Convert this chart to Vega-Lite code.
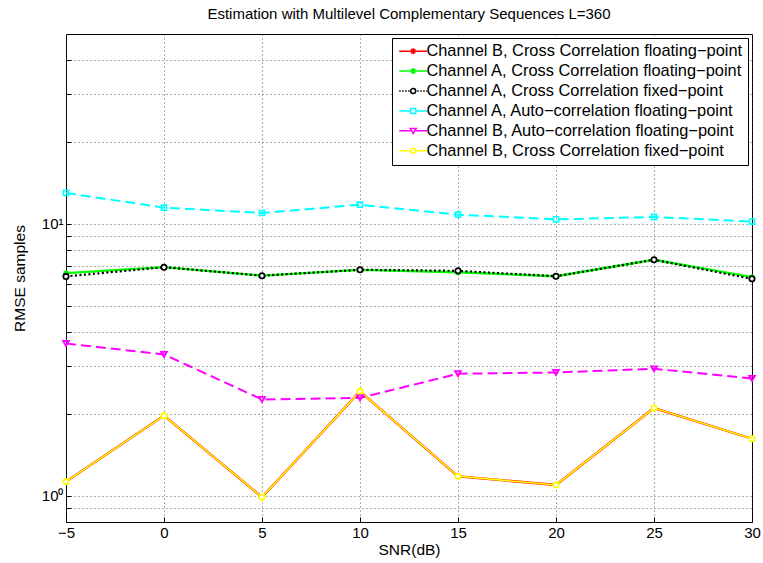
{
  "$schema": "https://vega.github.io/schema/vega-lite/v6.json",
  "autosize": "none",
  "width": 686,
  "height": 488,
  "padding": {"left": 66, "top": 34, "right": 11, "bottom": 41},
  "background": "white",
  "config": {
    "font": "Liberation Sans",
    "view": {"stroke": "#000", "strokeWidth": 1},
    "axis": {
      "domain": false,
      "ticks": true,
      "tickSize": -5,
      "tickColor": "#000",
      "tickWidth": 1,
      "gridDash": [1, 3],
      "gridColor": "#333",
      "gridOpacity": 0.8,
      "labelFont": "Liberation Sans",
      "labelFontSize": 15,
      "labelColor": "#000",
      "titleFont": "Liberation Sans",
      "titleFontSize": 15.5,
      "titleFontWeight": "normal",
      "titleColor": "#000"
    },
    "legend": {
      "orient": "top-right",
      "offset": 4,
      "padding": 5,
      "strokeColor": "#000",
      "fillColor": "#fff",
      "labelFont": "Liberation Sans",
      "labelFontSize": 16.4,
      "labelColor": "#000",
      "labelLimit": 500,
      "labelOffset": 13,
      "rowPadding": 2.9,
      "symbolSize": 144,
      "symbolStrokeWidth": 1.5,
      "symbolOpacity": 1,
      "symbolFillColor": "transparent"
    }
  },
  "title": {
    "text": "Estimation with Multilevel Complementary Sequences L=360",
    "font": "Liberation Sans",
    "fontSize": 15,
    "fontWeight": "normal",
    "color": "#000",
    "anchor": "middle",
    "frame": "group",
    "offset": 12
  },
  "data": {
    "values": [
      {"series": "Channel B, Cross Correlation floating−point", "snr": -5, "rmse": 1.126},
      {"series": "Channel B, Cross Correlation floating−point", "snr": 0, "rmse": 1.97},
      {"series": "Channel B, Cross Correlation floating−point", "snr": 5, "rmse": 0.987},
      {"series": "Channel B, Cross Correlation floating−point", "snr": 10, "rmse": 2.42},
      {"series": "Channel B, Cross Correlation floating−point", "snr": 15, "rmse": 1.178},
      {"series": "Channel B, Cross Correlation floating−point", "snr": 20, "rmse": 1.095},
      {"series": "Channel B, Cross Correlation floating−point", "snr": 25, "rmse": 2.1},
      {"series": "Channel B, Cross Correlation floating−point", "snr": 30, "rmse": 1.62},
      {"series": "Channel A, Cross Correlation floating−point", "snr": -5, "rmse": 6.59},
      {"series": "Channel A, Cross Correlation floating−point", "snr": 0, "rmse": 6.93},
      {"series": "Channel A, Cross Correlation floating−point", "snr": 5, "rmse": 6.45},
      {"series": "Channel A, Cross Correlation floating−point", "snr": 10, "rmse": 6.78},
      {"series": "Channel A, Cross Correlation floating−point", "snr": 15, "rmse": 6.64},
      {"series": "Channel A, Cross Correlation floating−point", "snr": 20, "rmse": 6.42},
      {"series": "Channel A, Cross Correlation floating−point", "snr": 25, "rmse": 7.38},
      {"series": "Channel A, Cross Correlation floating−point", "snr": 30, "rmse": 6.37},
      {"series": "Channel A, Cross Correlation fixed−point", "snr": -5, "rmse": 6.41},
      {"series": "Channel A, Cross Correlation fixed−point", "snr": 0, "rmse": 6.93},
      {"series": "Channel A, Cross Correlation fixed−point", "snr": 5, "rmse": 6.45},
      {"series": "Channel A, Cross Correlation fixed−point", "snr": 10, "rmse": 6.78},
      {"series": "Channel A, Cross Correlation fixed−point", "snr": 15, "rmse": 6.72},
      {"series": "Channel A, Cross Correlation fixed−point", "snr": 20, "rmse": 6.42},
      {"series": "Channel A, Cross Correlation fixed−point", "snr": 25, "rmse": 7.38},
      {"series": "Channel A, Cross Correlation fixed−point", "snr": 30, "rmse": 6.28},
      {"series": "Channel A, Auto−correlation floating−point", "snr": -5, "rmse": 13.0},
      {"series": "Channel A, Auto−correlation floating−point", "snr": 0, "rmse": 11.48},
      {"series": "Channel A, Auto−correlation floating−point", "snr": 5, "rmse": 10.97},
      {"series": "Channel A, Auto−correlation floating−point", "snr": 10, "rmse": 11.77},
      {"series": "Channel A, Auto−correlation floating−point", "snr": 15, "rmse": 10.82},
      {"series": "Channel A, Auto−correlation floating−point", "snr": 20, "rmse": 10.4},
      {"series": "Channel A, Auto−correlation floating−point", "snr": 25, "rmse": 10.61},
      {"series": "Channel A, Auto−correlation floating−point", "snr": 30, "rmse": 10.2},
      {"series": "Channel B, Auto−correlation floating−point", "snr": -5, "rmse": 3.63},
      {"series": "Channel B, Auto−correlation floating−point", "snr": 0, "rmse": 3.31},
      {"series": "Channel B, Auto−correlation floating−point", "snr": 5, "rmse": 2.26},
      {"series": "Channel B, Auto−correlation floating−point", "snr": 10, "rmse": 2.29},
      {"series": "Channel B, Auto−correlation floating−point", "snr": 15, "rmse": 2.81},
      {"series": "Channel B, Auto−correlation floating−point", "snr": 20, "rmse": 2.84},
      {"series": "Channel B, Auto−correlation floating−point", "snr": 25, "rmse": 2.93},
      {"series": "Channel B, Auto−correlation floating−point", "snr": 30, "rmse": 2.7},
      {"series": "Channel B, Cross Correlation fixed−point", "snr": -5, "rmse": 1.126},
      {"series": "Channel B, Cross Correlation fixed−point", "snr": 0, "rmse": 1.97},
      {"series": "Channel B, Cross Correlation fixed−point", "snr": 5, "rmse": 0.987},
      {"series": "Channel B, Cross Correlation fixed−point", "snr": 10, "rmse": 2.42},
      {"series": "Channel B, Cross Correlation fixed−point", "snr": 15, "rmse": 1.178},
      {"series": "Channel B, Cross Correlation fixed−point", "snr": 20, "rmse": 1.095},
      {"series": "Channel B, Cross Correlation fixed−point", "snr": 25, "rmse": 2.1},
      {"series": "Channel B, Cross Correlation fixed−point", "snr": 30, "rmse": 1.62}
    ]
  },
  "encoding": {
    "x": {
      "field": "snr",
      "type": "quantitative",
      "title": "SNR(dB)",
      "scale": {"domain": [-5, 30], "nice": false, "zero": false},
      "axis": {"values": [-5, 0, 5, 10, 15, 20, 25, 30], "labelPadding": 8, "titlePadding": 2, "labelFlush": false}
    },
    "y": {
      "field": "rmse",
      "type": "quantitative",
      "title": "RMSE samples",
      "scale": {"type": "log", "domain": [0.8, 50], "nice": false},
      "axis": {
        "values": [0.9, 1, 2, 3, 4, 5, 6, 7, 8, 9, 10, 20, 30, 40],
        "labelExpr": "datum.value == 1 ? '10⁰' : (datum.value == 10 ? '10¹' : '')",
        "labelPadding": 8,
        "titlePadding": 14
      }
    },
    "color": {
      "field": "series",
      "type": "nominal",
      "title": null,
      "scale": {
        "domain": [
          "Channel B, Cross Correlation floating−point",
          "Channel A, Cross Correlation floating−point",
          "Channel A, Cross Correlation fixed−point",
          "Channel A, Auto−correlation floating−point",
          "Channel B, Auto−correlation floating−point",
          "Channel B, Cross Correlation fixed−point"
        ],
        "range": ["#ff0000", "#00ff00", "#000000", "#00ffff", "#ff00ff", "#ffff00"]
      }
    }
  },
  "layer": [
    {
      "transform": [{"filter": {"field": "series", "oneOf": ["Channel B, Cross Correlation floating−point", "Channel A, Cross Correlation floating−point"]}}],
      "mark": {"type": "line", "strokeWidth": 2.3}
    },
    {
      "transform": [{"filter": {"field": "series", "equal": "Channel B, Cross Correlation fixed−point"}}],
      "mark": {"type": "line", "strokeWidth": 1.6}
    },
    {
      "transform": [{"filter": {"field": "series", "equal": "Channel A, Cross Correlation fixed−point"}}],
      "mark": {"type": "line", "strokeWidth": 2.2, "strokeDash": [2, 2.5]}
    },
    {
      "transform": [{"filter": {"field": "series", "oneOf": ["Channel A, Auto−correlation floating−point", "Channel B, Auto−correlation floating−point"]}}],
      "mark": {"type": "line", "strokeWidth": 2, "strokeDash": [10, 5]}
    },
    {
      "transform": [{"filter": {"field": "series", "oneOf": ["Channel B, Cross Correlation floating−point", "Channel A, Cross Correlation floating−point"]}}],
      "mark": {"type": "point", "filled": false, "opacity": 1, "strokeWidth": 1.5, "size": 36, "shape": "M-1,0H1M0,-1V1M-0.7,-0.7L0.7,0.7M-0.7,0.7L0.7,-0.7"}
    },
    {
      "transform": [{"filter": {"field": "series", "oneOf": ["Channel A, Cross Correlation fixed−point", "Channel B, Cross Correlation fixed−point"]}}],
      "mark": {"type": "point", "filled": false, "opacity": 1, "strokeWidth": 1.8, "size": 28, "shape": "circle", "fill": "white"}
    },
    {
      "transform": [{"filter": {"field": "series", "equal": "Channel A, Auto−correlation floating−point"}}],
      "mark": {"type": "point", "filled": false, "opacity": 1, "strokeWidth": 1.6, "size": 26, "shape": "square"}
    },
    {
      "transform": [{"filter": {"field": "series", "equal": "Channel B, Auto−correlation floating−point"}}],
      "mark": {"type": "point", "filled": false, "opacity": 1, "strokeWidth": 1.8, "size": 34, "shape": "triangle-down"}
    },
    {
      "transform": [{"filter": "false"}],
      "mark": {"type": "point", "filled": false, "opacity": 1, "strokeWidth": 1.5},
      "encoding": {
        "shape": {
          "field": "series",
          "type": "nominal",
          "title": null,
          "scale": {
            "domain": [
              "Channel B, Cross Correlation floating−point",
              "Channel A, Cross Correlation floating−point",
              "Channel A, Cross Correlation fixed−point",
              "Channel A, Auto−correlation floating−point",
              "Channel B, Auto−correlation floating−point",
              "Channel B, Cross Correlation fixed−point"
            ],
            "range": [
              "M-1,0H3.67M0.83,0H1.83M1.33,-0.5V0.5M0.98,-0.35L1.68,0.35M0.98,0.35L1.68,-0.35",
              "M-1,0H3.67M0.83,0H1.83M1.33,-0.5V0.5M0.98,-0.35L1.68,0.35M0.98,0.35L1.68,-0.35",
              "M-1,0H-0.75M-0.5,0H-0.25M0,0H0.25M0.5,0H0.75M2,0H2.25M2.5,0H2.75M3,0H3.25M3.5,0H3.67M0.91,0a0.42,0.42 0 1,0 0.84,0a0.42,0.42 0 1,0 -0.84,0",
              "M-1,0H0.91M1.75,0H3.67M0.91,-0.42H1.75V0.42H0.91Z",
              "M-1,0H0.88M1.78,0H3.67M0.83,-0.4H1.83L1.33,0.45Z",
              "M-1,0H0.91M1.75,0H3.67M0.91,0a0.42,0.42 0 1,0 0.84,0a0.42,0.42 0 1,0 -0.84,0"
            ]
          }
        }
      }
    }
  ]
}
